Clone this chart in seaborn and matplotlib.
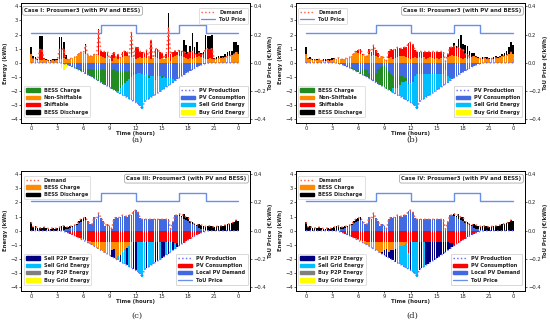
import numpy as np
import seaborn as sns
import matplotlib.pyplot as plt
from matplotlib.patches import Patch
from matplotlib.lines import Line2D

sns.set_theme(style="ticks")
plt.rcParams["font.family"] = ["DejaVu Sans"]

# 15-minute slots over one day (hours)
slots = np.arange(96) / 4
tick_pos = [0, 3, 6, 9, 12, 15, 18, 21, 23.75]
tick_labels = ["0", "3", "6", "9", "12", "15", "18", "21", "0"]

tou_price = [0.21] * 32 + [0.27] * 16 + [0.21] * 20 + [0.27] * 12 + [0.21] * 16

pv_production = [
    0, 0, 0, 0,  0, 0, 0, 0,  0, 0, 0, 0,  0, 0, -0.02, -0.05,
    -0.1, -0.15, -0.22, -0.28,  -0.35, -0.43, -0.52, -0.6,
    -0.68, -0.76, -0.84, -0.92,  -1.0, -1.1, -1.19, -1.28,
    -1.38, -1.47, -1.56, -1.65,  -1.74, -1.83, -1.92, -2.01,
    -2.1, -2.19, -2.28, -2.36,  -2.45, -2.54, -2.63, -2.72,
    -2.8, -2.9, -3.05, -3.27,  -2.75, -2.65, -2.55, -2.45,
    -2.35, -2.25, -2.15, -2.05,  -1.95, -1.84, -1.73, -1.62,
    -1.5, -1.39, -1.28, -1.16,  -1.05, -0.95, -0.85, -0.75,
    -0.65, -0.56, -0.47, -0.38,  -0.3, -0.22, -0.15, -0.09,
    -0.05, -0.02, 0, 0,  0, 0, 0, 0,  0, 0, 0, 0,  0, 0, 0, 0,
]

non_shiftable = [
    0.6, 0.25, 0.3, 0.2,  0.2, 0.2, 0.25, 0.2,  0.15, 0.15, 0.2, 0.15,
    0.2, 0.25, 0.3, 0.35,  0.25, 0.25, 0.3, 0.35,  0.4, 0.45, 0.7, 0.75,
    0.7, 0.65, 0.55, 0.5,  0.45, 0.6, 0.5, 0.55,  0.45, 0.4, 0.35, 0.5,
    0.3, 0.15, 0.35, 0.4,  0.3, 0.35, 0.4, 0.45,  0.5, 0.45, 0.4, 0.35,
    0.3, 0.35, 0.4, 0.35,  0.4, 0.35, 0.4, 0.3,  0.35, 0.4, 0.35, 0.3,
    0.35, 0.3, 0.35, 0.4,  0.1, 0.4, 0.5, 0.55,  0.5, 0.45, 0.4, 0.35,
    0.3, 0.35, 0.3, 0.35,  0.4, 0.45, 0.4, 0.35,  0.3, 0.3, 0.35, 0.3,
    0.25, 0.3, 0.3, 0.35,  0.35, 0.4, 0.45, 0.5,  0.55, 0.6, 0.75, 0.65,
]

# ---- Case I ----
shiftable_a = [
    0, 0, 0, 0,  0.75, 0.75, 0, 0,  0, 0, 0, 0,  0, 0.7, 0.7, 0.6,
    0, 0, 0, 0,  0, 0, 0, 0,  0, 0.6, 0, 0,  0, 0, 0, 1.75,
    0.4, 0.4, 0.45, 0.3,  0, 0.4, 0.45, 0,  0.3, 0, 0.35, 0.4,
    0.3, 0, 1.75, 0,  0.85, 0.75, 0.4, 0.45,  0.3, 0.55, 0, 1.3,
    0, 0.6, 0.65, 0.45,  0.35, 0, 0.3, 2.05,  0.5, 0.4, 0.35, 0.25,
    0.4, 0.35, 0.45, 0.3,  0.4, 0.45, 0.5, 0.3,  0.2, 0.25, 0.2, 0.3,
    0.7, 0.7, 0.65, 0.7,  0, 0, 0, 0,  0, 0, 0, 0,  0, 0, 0, 0,
]
discharge_a = [
    0.55, 0.25, 0.1, 0.1,  0.95, 0.95, 0.1, 0.05,  0.05, 0.05, 0.05, 0.1,
    0.1, 0.9, 0.8, 0.55,  0.3, 0, 0, 0,  0, 0, 0, 0,  0, 0.1, 0, 0,
    0, 0, 0, 0.1,  0, 0, 0, 0,  0, 0, 0, 0,  0, 0, 0, 0,  0, 0, 0, 0,
    0, 0, 0, 0,  0, 0, 0, 0,  0, 0, 0, 0,  0, 0, 0, 1.05,  0, 0, 0, 0,
    0, 0.05, 0.8, 0.6,  0.1, 0.4, 1.3, 0.5,  0.9, 0.15, 0.1, 0.1,
    0.95, 0.9, 0.9, 0.95,  0.1, 0.1, 0.15, 0.15,  0.1, 0.2, 0.3, 0.35,
    0.3, 0.85, 0.7, 0.6,
]
pv_consumption_a = [
    0, 0, 0, 0,  0, 0, 0, 0,  0, 0, 0, 0,  0, 0, -0.02, -0.05,
    -0.1, -0.15, -0.2, -0.25,  -0.3, -0.35, -0.4, -0.45,
    -0.45, -0.4, -0.4, -0.45,  -0.45, -0.5, -0.45, -0.5,
    -0.5, -0.45, -0.5, -0.55,  -0.5, -0.5, -0.45, -0.55,
    -0.6, -0.55, -0.6, -0.6,  -0.65, -0.6, -0.7, -0.65,
    -0.7, -0.75, -0.7, -0.8,  -0.85, -0.8, -0.9, -0.95,
    -0.9, -1.0, -0.95, -0.9,  -0.95, -1.0, -1.05, -1.1,
    -1.1, -1.15, -1.2, -1.16,  -1.05, -0.95, -0.85, -0.75,
    -0.65, -0.56, -0.47, -0.38,  -0.3, -0.22, -0.15, -0.09,
    -0.05, -0.02, 0, 0,  0, 0, 0, 0,  0, 0, 0, 0,  0, 0, 0, 0,
]
charge_a = [
    0, 0, 0, 0,  0, 0, 0, 0,  0, 0, 0, 0,  0, 0, 0, 0,
    0, 0, -0.02, -0.03,  -0.05, -0.08, -0.12, -0.15,
    -0.23, -0.36, -0.44, -0.47,  -0.55, -0.6, -0.74, -0.78,
    -0.88, -1.02, -1.06, -1.1,  -1.24, -1.33, -1.47, -1.46,
    -1.4, -1.2, -1.0, -0.8,  -0.65, -0.55, -0.3, -0.2,
    -0.1, 0, 0, 0,  0, 0, -0.15, 0,  0, -0.2, 0, 0,  -0.1, 0, 0, 0,
] + [0] * 32
sell_grid_a = [0] * 40 + [
    -0.1, -0.44, -0.68, -0.96,  -1.15, -1.39, -1.63, -1.87,
    -2.0, -2.15, -2.35, -2.47,  -1.9, -1.85, -1.5, -1.5,
    -1.45, -1.05, -1.2, -1.15,  -0.9, -0.84, -0.68, -0.52,
    -0.4, -0.24, -0.08, 0,
] + [0] * 28
buy_grid_a = [0] * 14 + [-0.35, -0.45, -0.2] + [0] * 79

# ---- Case II ----
shiftable_b = [
    0, 0, 0, 0,  0, 0, 0, 0,  0, 0, 0, 0,  0, 0, 0, 0,
    0, 0, 0, 0,  0, 0, 0, 0.1,  0.2, 0.3, 0.1, 0,  0, 0.35, 0.3, 0.7,
    0.45, 0.3, 0, 0,  0, 0, 0.5, 0.55,  0.6, 0.65, 0.7, 0.6,
    0.5, 0.65, 0.7, 1.05,  1.15, 1.0, 0.5, 0.45,  0.4, 0.45, 0.4, 0.5,
    0.45, 0.4, 0.45, 0.5,  0.45, 0.5, 0.45, 0.4,  0, 0.2, 0.6, 0.55,
    0.7, 0.6, 0.75, 0.6,  0.65, 0.3, 0.3, 0.1,  0, 0, 0, 0,
    0, 0, 0, 0,  0, 0, 0, 0,  0, 0, 0, 0,  0, 0, 0, 0,
]
discharge_b = [
    0.55, 0.1, 0.1, 0.1,  0.05, 0.05, 0, 0,  0.1, 0.1, 0.1, 0.1,
    0.15, 0.1, 0, 0,
] + [0] * 52 + [
    0.2, 0.15, 0.55, 1.0,  0.35, 0.6, 0.6, 0.4,  0.3, 0.25, 0.1, 0.05,
    0.05, 0.1, 0.05, 0.1,  0.1, 0.05, 0.1, 0.1,  0.05, 0.1, 0.15, 0.2,
    0.3, 0.5, 0.7, 0.6,
]
pv_consumption_b = [
    0, 0, 0, 0,  0, 0, 0, 0,  0, 0, 0, 0,  0, 0, -0.02, -0.05,
    -0.1, -0.15, -0.2, -0.25,  -0.3, -0.35, -0.45, -0.5,
    -0.5, -0.55, -0.45, -0.45,  -0.5, -0.75, -0.8, -1.2,
    -0.7, -0.45, -0.3, -0.2,  -0.15, -0.3, -0.6, -0.8,
    -0.95, -1.0, -1.05, -0.95,  -0.9, -1.05, -1.1, -1.4,
    -1.45, -1.35, -0.9, -0.8,  -0.8, -0.8, -0.8, -0.8,
    -0.8, -0.8, -0.8, -0.8,  -0.8, -0.8, -0.8, -0.8,
    -0.5, -0.9, -1.1, -1.16,  -1.05, -0.95, -0.85, -0.75,
    -0.65, -0.56, -0.47, -0.38,  -0.3, -0.22, -0.15, -0.09,
    -0.05, -0.02, 0, 0,  0, 0, 0, 0,  0, 0, 0, 0,  0, 0, 0, 0,
]
charge_b = [0] * 18 + [
    -0.02, -0.03,  -0.05, -0.08, -0.07, -0.1,
    -0.18, -0.21, -0.39, -0.47,  -0.5, -0.35, -0.39, -0.08,
    -0.68, -1.02, -1.26, -1.45,  -1.59, -1.53, -1.32, -1.21,
    -0.85, -0.8, -0.7, -0.6,  -0.45, -0.3, -0.2, -0.1,
] + [0] * 48
sell_grid_b = [0] * 40 + [
    -0.3, -0.39, -0.53, -0.81,  -1.1, -1.19, -1.33, -1.22,
    -1.35, -1.55, -2.15, -2.47,  -1.95, -1.85, -1.75, -1.65,
    -1.55, -1.45, -1.35, -1.25,  -1.15, -1.04, -0.93, -0.82,
    -1.0, -0.49, -0.18, 0,
] + [0] * 28

# ---- Case III / IV (same household load) ----
local_pv_demand = [
    0, 0, 0, 0,  0, 0, 0, 0,  0, 0, 0, 0,  0, 0, 0, 0.05,
    0.1, 0.15, 0.22, 0.28,  0.35, 0.43, 0.52, 0.6,
    0.68, 0.76, 0.65, 0.5,  0.45, 0.95, 0.8, 1.25,
    0.9, 0.7, 0.35, 0.5,  0.3, 0.15, 0.85, 0.95,
    0.9, 1.0, 1.1, 1.05,  1.0, 1.1, 1.1, 1.4,
    1.45, 1.35, 0.9, 0.8,  0.8, 0.8, 0.8, 0.8,
    0.8, 0.8, 0.8, 0.8,  0.8, 0.8, 0.8, 0.8,
    0.1, 0.6, 1.1, 1.1,  1.05, 0.95, 0.85, 0.75,
    0.65, 0.56, 0.47, 0.38,  0.3, 0.22, 0.15, 0.09,
    0.05, 0.02, 0, 0,  0, 0, 0, 0,  0, 0, 0, 0,  0, 0, 0, 0,
]
discharge_cd = [
    0.6, 0.25, 0.3, 0.2,  0.2, 0.2, 0.25, 0.2,  0.15, 0.15, 0.2, 0.15,
    0.2, 0.25, 0.3, 0.3,  0.15, 0.1, 0.08, 0.07,  0.05, 0.02, 0.18, 0.25,
    0.22, 0.19, 0, 0,
] + [0] * 40 + [
    0.15, 0.1, 0.3, 0.2,  0.3, 0.09, 0.13, 0.07,  0.1, 0.23, 0.25, 0.26,
    0.25, 0.28, 0.35, 0.3,  0.25, 0.3, 0.3, 0.35,  0.35, 0.4, 0.45, 0.5,
    0.55, 0.6, 0.75, 0.65,
]
buy_p2p_cd = [0.0] * 96
buy_grid_cd = [0.0] * 96

pv_consumption_c = [
    0, 0, 0, 0,  0, 0, 0, 0,  0, 0, 0, 0,  0, 0, -0.02, -0.05,
    -0.1, -0.15, -0.22, -0.28,  -0.35, -0.43, -0.5, -0.55,
    -0.6, -0.65, -0.7, -0.75,  -0.8, -0.8, -0.8, -0.8,
    -0.8, -0.8, -0.8, -0.8,  -0.8, -0.8, -0.8, -0.8,
    -0.8, -0.8, -0.8, -0.8,  -0.8, -0.8, -0.8, -0.8,
    -0.8, -0.8, -0.8, -0.8,  -0.8, -0.8, -0.8, -0.8,
    -0.8, -0.8, -0.8, -0.8,  -0.8, -0.8, -0.8, -0.8,
    -0.8, -0.8, -0.85, -0.9,  -1.05, -0.95, -0.85, -0.75,
    -0.65, -0.56, -0.47, -0.38,  -0.3, -0.22, -0.15, -0.09,
    -0.05, -0.02, 0, 0,  0, 0, 0, 0,  0, 0, 0, 0,  0, 0, 0, 0,
]
charge_c = [0] * 22 + [
    -0.02, -0.05,  -0.08, -0.11, -0.14, -0.17,
    -0.2, -0.3, -0.39, -0.48,  -0.58, -0.67, -0.76, -0.85,
    -0.94, -0.6, -0.5, -1.21,  -1.0, -0.9, -0.7, -0.5,
    -0.4, -0.3, -0.2, 0,
] + [0] * 48
sell_grid_c = [0] * 40 + [
    -0.3, 0, -0.78, -1.06,  0, -1.44, -1.63, 0,
    0, -2.1, -2.25, -2.47,  -1.95, 0, -1.75, -1.65,
    -1.55, 0, 0, -1.25,  0, 0, -0.93, 0,  -0.7, 0, -0.43, 0,
] + [0] * 28
sell_p2p_c = [0] * 36 + [
    0, -0.43, -0.62, 0,  0, -0.49, 0, 0,  -1.25, 0, 0, -1.92,
    -2.0, 0, 0, 0,  0, -1.85, 0, 0,  0, -1.45, -1.35, 0,
    -1.15, -1.04, 0, -0.82,  0, -0.59, 0, -0.26,
] + [0] * 28

pv_consumption_d = [
    0, 0, 0, 0,  0, 0, 0, 0,  0, 0, 0, 0,  0, 0, -0.02, -0.05,
    -0.1, -0.15, -0.22, -0.28,  -0.35, -0.43, -0.5, -0.55,
    -0.6, -0.65, -0.7, -0.75,  -0.8, -0.8, -0.8, -0.8,
    -0.8, -0.8, -0.8, -0.8,  -0.8, -0.8, -0.8, -0.8,
    -0.8, -0.8, -0.8, -0.8,  -0.8, -0.8, -0.8, -1.6,
    -0.8, -0.8, -0.8, -0.8,  -0.8, -0.8, -0.8, -0.8,
    -0.8, -0.8, -0.8, -0.8,  -0.8, -0.8, -0.8, -0.8,
    -0.8, -0.8, -0.85, -0.9,  -1.05, -0.95, -0.85, -0.75,
    -0.65, -0.56, -0.47, -0.38,  -0.3, -0.22, -0.15, -0.09,
    -0.05, -0.02, 0, 0,  0, 0, 0, 0,  0, 0, 0, 0,  0, 0, 0, 0,
]
charge_d = [0] * 22 + [
    -0.02, -0.05,  -0.08, -0.11, -0.14, -0.17,
    -0.2, -0.3, -0.39, -0.48,  -0.58, -0.67, -0.76, -0.7,
    -0.6, -0.5, -0.7, -0.55,  -0.6, -0.5, -0.4, -0.3,
    -0.25, -0.2, -0.1, 0,
] + [0] * 48
sell_grid_d = [0] * 40 + [
    0, 0, -1.08, -1.26,  -1.4, -1.54, -1.73, -1.12,
    0, -2.1, -2.25, -2.47,  0, 0, -1.75, 0,
] + [0] * 40
sell_p2p_d = [0] * 35 + [
    -0.15,
    -0.34, -0.53, -0.42, -0.66,  -0.7, -0.89, 0, 0,  0, 0, 0, 0,
    -2.0, 0, 0, 0,  -1.95, -1.85, 0, -1.65,
    -1.55, -1.45, -1.35, -1.25,  -1.15, -1.04, -0.93, -0.82,
    -0.7, -0.59, -0.43, -0.26,
] + [0] * 28

demand_ab = np.add(non_shiftable, shiftable_b)
demand_a = np.add(non_shiftable, shiftable_a)

C_GREEN, C_ORANGE, C_RED, C_BLACK = "#228b22", "#ff8c00", "#ff0000", "#000000"
C_BLUE, C_SKY, C_YELLOW = "#4169e1", "#00bfff", "#ffff00"
C_NAVY, C_GREY = "#000080", "#808080"
C_DEMAND, C_PV, C_TOU = "#ff5a3c", "#6b6bff", "#6a8fe8"

FS_TICK, FS_LABEL, FS_LEG = 3.8, 3.9, 3.6
fig = plt.figure(figsize=(5.5, 3.24), dpi=100)


def stack_bars(ax, layers):
    pos = np.zeros(96)
    neg = np.zeros(96)
    for values, color in layers:
        v = np.asarray(values, dtype=float)
        base = np.where(v >= 0, pos, neg)
        ax.bar(slots, v, width=0.19, bottom=base, color=color, linewidth=0, zorder=2)
        pos = pos + np.clip(v, 0, None)
        neg = neg + np.clip(v, None, 0)


def add_legend(ax, handles, loc, anchor):
    leg = ax.legend(handles=handles, loc=loc, bbox_to_anchor=anchor,
                    prop={"size": FS_LEG, "weight": "bold"}, handlelength=2.8,
                    handleheight=0.7, borderpad=0.4, labelspacing=0.45,
                    framealpha=0.85, edgecolor="0.8", fancybox=True)
    leg.get_frame().set_linewidth(0.5)
    ax.add_artist(leg)


def draw_panel(rect, title, title_right, layers, demand, legends, caption, cap_xy):
    ax = fig.add_axes(rect)
    stack_bars(ax, layers)
    sns.lineplot(x=slots, y=demand, ax=ax, color=C_DEMAND, linestyle=":",
                 linewidth=1.1, legend=False, zorder=4)
    sns.lineplot(x=slots, y=pv_production, ax=ax, color=C_PV, linestyle=":",
                 linewidth=1.0, legend=False, zorder=4)
    ax.set_xlim(-1.15, 25.1)
    ax.set_ylim(-4.24, 4.24)
    ax.set_yticks(range(-4, 5))
    ax.set_xticks(tick_pos)
    ax.set_xticklabels(tick_labels)
    ax.tick_params(labelsize=FS_TICK, length=1.5, width=0.5, pad=0.8)
    ax.set_xlabel("Time (hours)", fontsize=FS_LABEL, weight="bold", labelpad=0)
    ax.set_ylabel("Energy (kWh)", fontsize=FS_LABEL, weight="bold", labelpad=1.5)

    ax2 = ax.twinx()
    sns.lineplot(x=slots, y=tou_price, ax=ax2, color=C_TOU, linewidth=1.0,
                 drawstyle="steps-post", legend=False)
    ax2.set_ylim(-0.424, 0.424)
    ax2.set_yticks([-0.4, -0.2, 0.0, 0.2, 0.4])
    ax2.tick_params(labelsize=FS_TICK, length=1.5, width=0.5, pad=0.8)
    ax2.set_ylabel("ToU Price (€/kWh)", fontsize=FS_LABEL, weight="bold",
                   rotation=90, va="center", ha="center")
    ax2.yaxis.set_label_coords(1.088, 0.5)
    for a in (ax, ax2):
        for s in a.spines.values():
            s.set_linewidth(0.6)
            s.set_color("black")

    for handles, loc, anchor in legends:
        add_legend(ax2, handles, loc, anchor)

    if title_right:
        tx, ha = 0.985, "right"
    else:
        tx, ha = 0.015, "left"
    ax2.text(tx, 0.955, title, transform=ax2.transAxes, ha=ha, va="top",
             fontsize=3.9, weight="bold", zorder=6,
             bbox=dict(boxstyle="round,pad=0.35", fc="white", ec="0.6", lw=0.5))
    fig.text(cap_xy[0], cap_xy[1], caption, ha="center", va="center",
             family="DejaVu Serif", fontsize=6)


line_demand = Line2D([], [], color=C_DEMAND, linestyle=":", linewidth=1.0, label="Demand")
line_tou = Line2D([], [], color=C_TOU, linewidth=0.9, label="ToU Price")
line_pv = Line2D([], [], color=C_PV, linestyle=":", linewidth=1.0, label="PV Production")

leg_ab_bottom_left = [
    Patch(color=C_GREEN, label="BESS Charge"),
    Patch(color=C_ORANGE, label="Non-Shiftable"),
    Patch(color=C_RED, label="Shiftable"),
    Patch(color=C_BLACK, label="BESS Discharge"),
]
leg_ab_bottom_right = [
    line_pv,
    Patch(color=C_BLUE, label="PV Consumption"),
    Patch(color=C_SKY, label="Sell Grid Energy"),
    Patch(color=C_YELLOW, label="Buy Grid Energy"),
]
leg_cd_top = [
    line_demand,
    Patch(color=C_ORANGE, label="BESS Charge"),
    Patch(color=C_BLACK, label="BESS Discharge"),
]
leg_cd_bottom_left = [
    Patch(color=C_NAVY, label="Sell P2P Energy"),
    Patch(color=C_SKY, label="Sell Grid Energy"),
    Patch(color=C_GREY, label="Buy P2P Energy"),
    Patch(color=C_YELLOW, label="Buy Grid Energy"),
]
leg_cd_bottom_right = [
    line_pv,
    Patch(color=C_RED, label="PV Consumption"),
    Patch(color=C_BLUE, label="Local PV Demand"),
    line_tou,
]

top_rect_y, bot_rect_y, rect_h, rect_w = 0.621, 0.103, 0.370, 0.4164
BL, BR = ("lower left", (0.0, 0.03)), ("lower right", (1.0, 0.03))

draw_panel(
    [0.0382, top_rect_y, rect_w, rect_h],
    "Case I: Prosumer3 (with PV and BESS)", False,
    [(non_shiftable, C_ORANGE), (shiftable_a, C_RED), (discharge_a, C_BLACK),
     (pv_consumption_a, C_BLUE), (charge_a, C_GREEN), (sell_grid_a, C_SKY),
     (buy_grid_a, C_YELLOW)],
    demand_a,
    [([line_demand, line_tou], "upper right", (1.0, 0.98)),
     (leg_ab_bottom_left, *BL), (leg_ab_bottom_right, *BR)],
    "(a)", (0.249, 0.568),
)
draw_panel(
    [0.538, top_rect_y, rect_w, rect_h],
    "Case II: Prosumer3 (with PV and BESS)", True,
    [(non_shiftable, C_ORANGE), (shiftable_b, C_RED), (discharge_b, C_BLACK),
     (pv_consumption_b, C_BLUE), (charge_b, C_GREEN), (sell_grid_b, C_SKY)],
    demand_ab,
    [([line_demand, line_tou], "upper left", (0.0, 0.98)),
     (leg_ab_bottom_left, *BL), (leg_ab_bottom_right, *BR)],
    "(b)", (0.749, 0.568),
)
draw_panel(
    [0.0382, bot_rect_y, rect_w, rect_h],
    "Case III: Prosumer3 (with PV and BESS)", True,
    [(local_pv_demand, C_BLUE), (discharge_cd, C_BLACK), (buy_p2p_cd, C_GREY),
     (buy_grid_cd, C_YELLOW), (pv_consumption_c, C_RED), (charge_c, C_ORANGE),
     (sell_grid_c, C_SKY), (sell_p2p_c, C_NAVY)],
    demand_ab,
    [(leg_cd_top, "upper left", (0.0, 0.98)),
     (leg_cd_bottom_left, *BL), (leg_cd_bottom_right, *BR)],
    "(c)", (0.249, 0.025),
)
draw_panel(
    [0.538, bot_rect_y, rect_w, rect_h],
    "Case IV: Prosumer3 (with PV and BESS)", True,
    [(local_pv_demand, C_BLUE), (discharge_cd, C_BLACK), (buy_p2p_cd, C_GREY),
     (buy_grid_cd, C_YELLOW), (pv_consumption_d, C_RED), (charge_d, C_ORANGE),
     (sell_grid_d, C_SKY), (sell_p2p_d, C_NAVY)],
    demand_ab,
    [(leg_cd_top, "upper left", (0.0, 0.98)),
     (leg_cd_bottom_left, *BL), (leg_cd_bottom_right, *BR)],
    "(d)", (0.749, 0.025),
)

fig.savefig("out.png", dpi=100)
